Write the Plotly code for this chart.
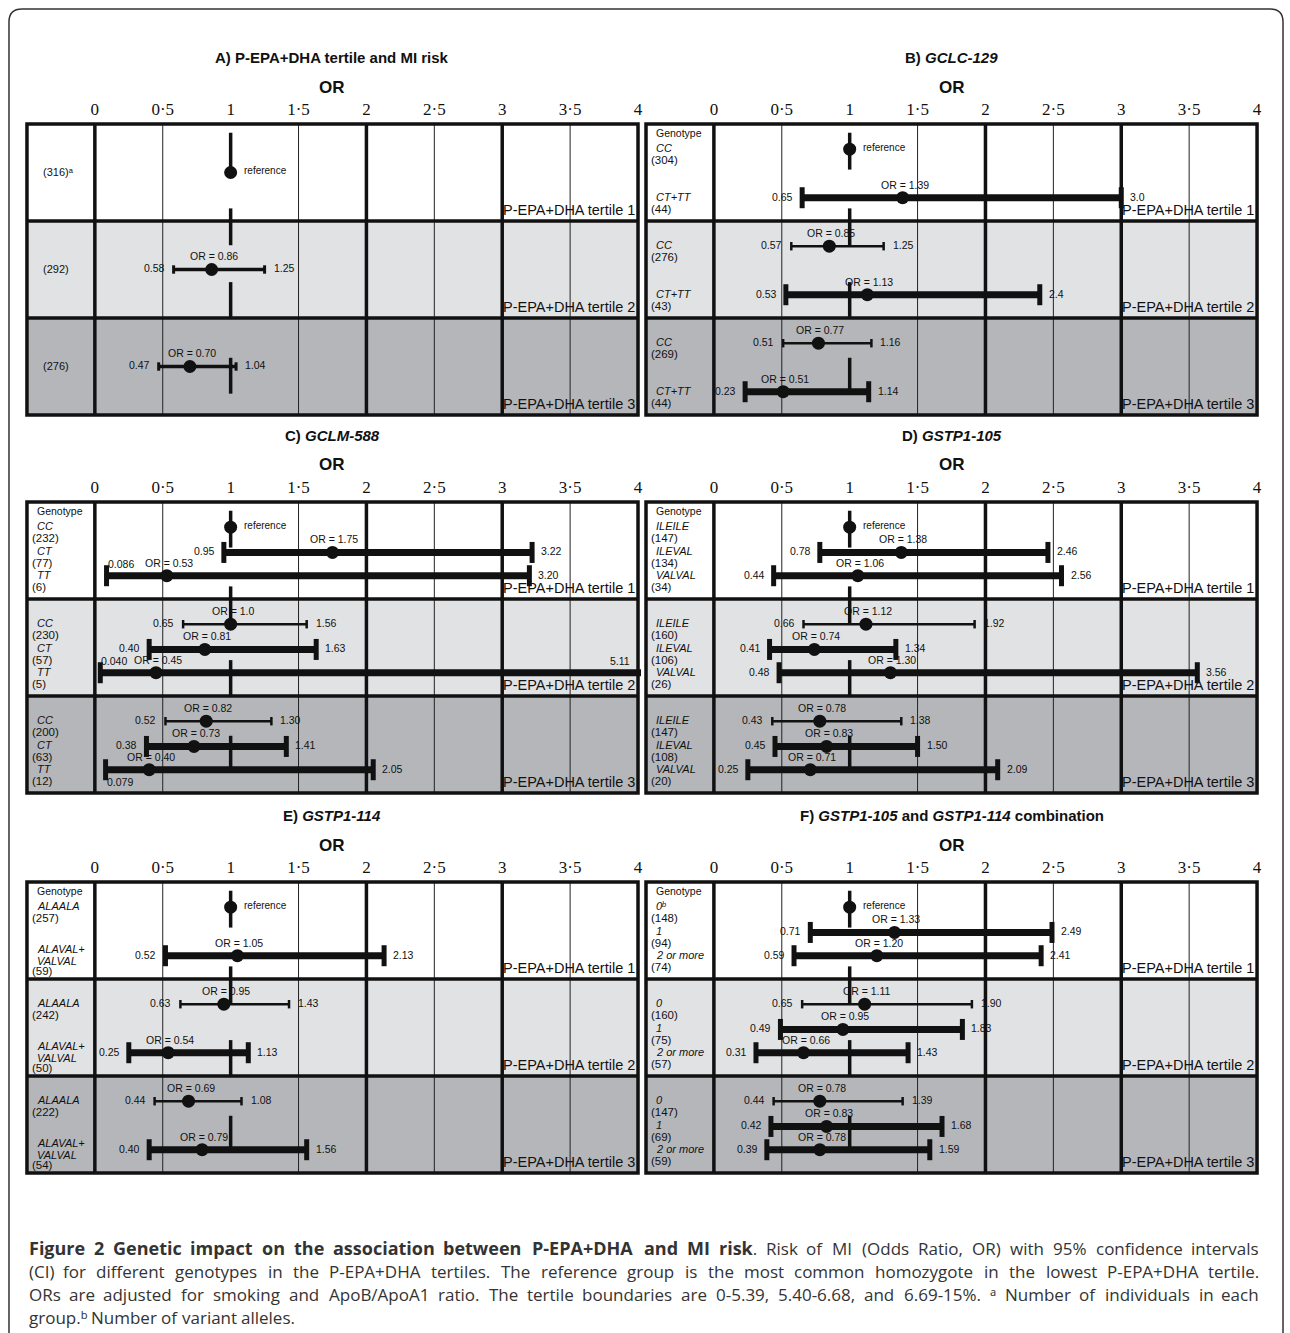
import plotly.graph_objects as go

W, H = 1290, 1333

# ------------------------------------------------------------------ data
tick_vals = [0, 0.5, 1, 1.5, 2, 2.5, 3, 3.5, 4]
tick_text = ["0", "0·5", "1", "1·5", "2", "2·5", "3", "3·5", "4"]
tertile_labels = ["P-EPA+DHA tertile 1", "P-EPA+DHA tertile 2", "P-EPA+DHA tertile 3"]

# Panel A
a_tertile = [1, 2, 3]
a_genotype = ["", "", ""]
a_n = ["(316)ᵃ", "(292)", "(276)"]
a_or = ["1", "0.86", "0.70"]
a_lo = [None, "0.58", "0.47"]
a_hi = [None, "1.25", "1.04"]

# Panel B  GCLC-129
b_tertile = [1, 1, 2, 2, 3, 3]
b_genotype = ["CC", "CT+TT", "CC", "CT+TT", "CC", "CT+TT"]
b_n = ["(304)", "(44)", "(276)", "(43)", "(269)", "(44)"]
b_or = ["1", "1.39", "0.85", "1.13", "0.77", "0.51"]
b_lo = [None, "0.65", "0.57", "0.53", "0.51", "0.23"]
b_hi = [None, "3.0", "1.25", "2.4", "1.16", "1.14"]

# Panel C  GCLM-588
c_tertile = [1, 1, 1, 2, 2, 2, 3, 3, 3]
c_genotype = ["CC", "CT", "TT", "CC", "CT", "TT", "CC", "CT", "TT"]
c_n = ["(232)", "(77)", "(6)", "(230)", "(57)", "(5)", "(200)", "(63)", "(12)"]
c_or = ["1", "1.75", "0.53", "1.0", "0.81", "0.45", "0.82", "0.73", "0.40"]
c_lo = [None, "0.95", "0.086", "0.65", "0.40", "0.040", "0.52", "0.38", "0.079"]
c_hi = [None, "3.22", "3.20", "1.56", "1.63", "5.11", "1.30", "1.41", "2.05"]

# Panel D  GSTP1-105
d_tertile = [1, 1, 1, 2, 2, 2, 3, 3, 3]
d_genotype = ["ILEILE", "ILEVAL", "VALVAL", "ILEILE", "ILEVAL", "VALVAL", "ILEILE", "ILEVAL", "VALVAL"]
d_n = ["(147)", "(134)", "(34)", "(160)", "(106)", "(26)", "(147)", "(108)", "(20)"]
d_or = ["1", "1.38", "1.06", "1.12", "0.74", "1.30", "0.78", "0.83", "0.71"]
d_lo = [None, "0.78", "0.44", "0.66", "0.41", "0.48", "0.43", "0.45", "0.25"]
d_hi = [None, "2.46", "2.56", "1.92", "1.34", "3.56", "1.38", "1.50", "2.09"]

# Panel E  GSTP1-114
e_tertile = [1, 1, 2, 2, 3, 3]
e_genotype = ["ALAALA", "ALAVAL+|VALVAL", "ALAALA", "ALAVAL+|VALVAL", "ALAALA", "ALAVAL+|VALVAL"]
e_n = ["(257)", "(59)", "(242)", "(50)", "(222)", "(54)"]
e_or = ["1", "1.05", "0.95", "0.54", "0.69", "0.79"]
e_lo = [None, "0.52", "0.63", "0.25", "0.44", "0.40"]
e_hi = [None, "2.13", "1.43", "1.13", "1.08", "1.56"]

# Panel F  GSTP1-105 + GSTP1-114 combination
f_tertile = [1, 1, 1, 2, 2, 2, 3, 3, 3]
f_genotype = ["0ᵇ", "1", "2 or more", "0", "1", "2 or more", "0", "1", "2 or more"]
f_n = ["(148)", "(94)", "(74)", "(160)", "(75)", "(57)", "(147)", "(69)", "(59)"]
f_or = ["1", "1.33", "1.20", "1.11", "0.95", "0.66", "0.78", "0.83", "0.78"]
f_lo = [None, "0.71", "0.59", "0.65", "0.49", "0.31", "0.44", "0.42", "0.39"]
f_hi = [None, "2.49", "2.41", "1.90", "1.83", "1.43", "1.39", "1.68", "1.59"]

# OR = 1 reference line, drawn in pieces (row units)
ref_segments = [(0.09, 0.47), (0.87, 1.25), (1.63, 2.0), (2.41, 2.78)]

panel_titles = [
    "<b>A) P-EPA+DHA tertile and MI risk</b>",
    "<b>B) <i>GCLC-129</i></b>",
    "<b>C) <i>GCLM-588</i></b>",
    "<b>D) <i>GSTP1-105</i></b>",
    "<b>E) <i>GSTP1-114</i></b>",
    "<b>F) <i>GSTP1-105</i> and <i>GSTP1-114</i> combination</b>",
]

# caption: words marked with * are bold
caption_lines = [
    "*Figure *2 *Genetic *impact *on *the *association *between *P-EPA+DHA *and *MI *risk|. Risk of MI (Odds Ratio, OR) with 95% confidence intervals",
    "(CI) for different genotypes in the P-EPA+DHA tertiles. The reference group is the most common homozygote in the lowest P-EPA+DHA tertile.",
    "ORs are adjusted for smoking and ApoB/ApoA1 ratio. The tertile boundaries are 0-5.39, 5.40-6.68, and 6.69-15%. ᵃ Number of individuals in each",
    "group.ᵇ Number of variant alleles.",
]

panels = [
    dict(t=a_tertile, g=a_genotype, n=a_n, orv=a_or, lo=a_lo, hi=a_hi),
    dict(t=b_tertile, g=b_genotype, n=b_n, orv=b_or, lo=b_lo, hi=b_hi),
    dict(t=c_tertile, g=c_genotype, n=c_n, orv=c_or, lo=c_lo, hi=c_hi),
    dict(t=d_tertile, g=d_genotype, n=d_n, orv=d_or, lo=d_lo, hi=d_hi),
    dict(t=e_tertile, g=e_genotype, n=e_n, orv=e_or, lo=e_lo, hi=e_hi),
    dict(t=f_tertile, g=f_genotype, n=f_n, orv=f_or, lo=f_lo, hi=f_hi),
]

# label placement exceptions (panel index, row index) -> placement
lo_place = {(2, 2): "above", (2, 5): "above", (2, 8): "below"}
hi_place = {(2, 5): "edge"}

# ------------------------------------------------------------------ layout geometry
SANS = "Liberation Sans, Arial, sans-serif"
SERIF = "Liberation Serif, Times New Roman, serif"
CAPFONT = "Open Sans, Noto Sans, DejaVu Sans, sans-serif"
BG = ["#ffffff", "#e1e2e4", "#b4b6ba"]

col_zero = [95.0, 715.0]          # pixel x of OR = 0
unit_x = 136.0
row_top = [124.0, 502.0, 882.0]   # pixel y of table top
unit_y = 97.0
PADX, PADY = 3.0, 3.0

fig = go.Figure()
shapes, annotations = [], []


def row_offsets(k):
    return {1: [0.5], 2: [0.26, 0.76], 3: [0.26, 0.52, 0.76]}[k]


for i, p in enumerate(panels):
    k = "" if i == 0 else str(i + 1)
    xr, yr = "x" + k, "y" + k
    x0 = col_zero[i % 2]
    top = row_top[i // 2]
    left_px = x0 - 0.5 * unit_x - PADX
    right_px = x0 + 4 * unit_x + PADX
    top_px = top - PADY
    bot_px = top + 3 * unit_y + PADY
    fig.layout["xaxis" + k] = dict(
        domain=[left_px / W, right_px / W],
        range=[-0.5 - PADX / unit_x, 4 + PADX / unit_x],
        anchor=yr, side="top", tickvals=tick_vals, ticktext=tick_text,
        tickfont=dict(family=SERIF, size=17, color="#111"), ticks="",
        showgrid=False, zeroline=False, showline=False, fixedrange=True,
        ticklabelstandoff=2,
    )
    fig.layout["yaxis" + k] = dict(
        domain=[1 - bot_px / H, 1 - top_px / H],
        range=[3 + PADY / unit_y, -PADY / unit_y],
        anchor=xr, showticklabels=False, showgrid=False, zeroline=False,
        showline=False, fixedrange=True,
    )

    for t in range(3):
        shapes.append(dict(type="rect", xref=xr, yref=yr, x0=-0.5, x1=4, y0=t, y1=t + 1,
                           fillcolor=BG[t], line=dict(width=0), layer="below"))
    for gx in [0.5, 1.5, 2.5, 3.5]:
        shapes.append(dict(type="line", xref=xr, yref=yr, x0=gx, x1=gx, y0=0, y1=3,
                           line=dict(color="#222", width=1), layer="below"))
    for gx in [0, 2, 3]:
        shapes.append(dict(type="line", xref=xr, yref=yr, x0=gx, x1=gx, y0=0, y1=3,
                           line=dict(color="#111", width=3.5), layer="below"))
    for gy in [1, 2]:
        shapes.append(dict(type="line", xref=xr, yref=yr, x0=-0.5, x1=4, y0=gy, y1=gy,
                           line=dict(color="#111", width=3.5), layer="below"))
    shapes.append(dict(type="rect", xref=xr, yref=yr, x0=-0.5, x1=4, y0=0, y1=3,
                       line=dict(color="#111", width=3.5), layer="below"))

    for t in range(3):
        annotations.append(dict(xref=xr, yref=yr, x=4, y=t + 1, text=tertile_labels[t],
                                xanchor="right", yanchor="bottom", showarrow=False,
                                xshift=-1, yshift=1, font=dict(family=SANS, size=14.5, color="#111")))

    ys = []
    for t in range(1, 4):
        cnt = p["t"].count(t)
        ys += [t - 1 + o for o in row_offsets(cnt)]

    rx, ry = [], []
    for s0, s1 in ref_segments:
        rx += [1, 1, None]
        ry += [s0, s1, None]
    fig.add_trace(go.Scatter(x=rx, y=ry, xaxis=xr, yaxis=yr, mode="lines",
                             line=dict(color="#111", width=3.5), hoverinfo="skip", showlegend=False))

    first_of_tertile = [j == 0 or p["t"][j] != p["t"][j - 1] for j in range(len(ys))]
    groups = {"thin": ([], [], []), "thick": ([], [], [])}
    for j, y in enumerate(ys):
        if p["lo"][j] is None:
            continue
        lo, hi = float(p["lo"][j]), float(p["hi"][j])
        gname = "thin" if (i == 0 or first_of_tertile[j]) else "thick"
        gx_, gy_, caps = groups[gname]
        gx_ += [lo, hi, None]
        gy_ += [y, y, None]
        caps += [(lo, y), (hi, y)]
    for gname, (gx_, gy_, caps) in groups.items():
        if not gx_:
            continue
        if i == 0:
            lw, csize, cw = 3.5, 6, 3
        elif gname == "thin":
            lw, csize, cw = 2.6, 6, 2.5
        else:
            lw, csize, cw = 7, 15, 5
        fig.add_trace(go.Scatter(x=gx_, y=gy_, xaxis=xr, yaxis=yr, mode="lines",
                                 line=dict(color="#111", width=lw), hoverinfo="skip", showlegend=False))
        fig.add_trace(go.Scatter(x=[c[0] for c in caps], y=[c[1] for c in caps], xaxis=xr, yaxis=yr,
                                 mode="markers", marker=dict(symbol="line-ns", size=csize,
                                                             line=dict(color="#111", width=cw)),
                                 hoverinfo="skip", showlegend=False))
    fig.add_trace(go.Scatter(x=[float(v) for v in p["orv"]], y=ys, xaxis=xr, yaxis=yr, mode="markers",
                             marker=dict(symbol="circle", size=13, color="#111"),
                             hoverinfo="skip", showlegend=False))

    small = dict(family=SANS, size=10.5, color="#111")
    for j, y in enumerate(ys):
        orv = p["orv"][j]
        if p["lo"][j] is None:
            annotations.append(dict(xref=xr, yref=yr, x=float(orv), y=y, text="reference",
                                    xanchor="left", yanchor="middle", showarrow=False, xshift=11, yshift=2,
                                    font=dict(family=SANS, size=10, color="#111")))
        else:
            annotations.append(dict(xref=xr, yref=yr, x=float(orv), y=y, text="OR = " + orv,
                                    xanchor="center", yanchor="middle", showarrow=False, xshift=2, yshift=13,
                                    font=small))
            lp = lo_place.get((i, j), "left")
            lo = float(p["lo"][j])
            if lp == "left":
                annotations.append(dict(xref=xr, yref=yr, x=lo, y=y, text=p["lo"][j], xanchor="right",
                                        yanchor="middle", showarrow=False, xshift=-7, yshift=1, font=small))
            else:
                annotations.append(dict(xref=xr, yref=yr, x=lo, y=y, text=p["lo"][j], xanchor="left",
                                        yanchor="middle", showarrow=False, xshift=-1,
                                        yshift=12 if lp == "above" else -12, font=small))
            hp = hi_place.get((i, j), "right")
            if hp == "right":
                annotations.append(dict(xref=xr, yref=yr, x=float(p["hi"][j]), y=y, text=p["hi"][j],
                                        xanchor="left", yanchor="middle", showarrow=False, xshift=7, yshift=1,
                                        font=small))
            else:
                annotations.append(dict(xref=xr, yref=yr, x=4, y=y, text=p["hi"][j],
                                        xanchor="right", yanchor="middle", showarrow=False, xshift=-6,
                                        yshift=12, font=small))
        if i == 0:
            annotations.append(dict(xref=xr, yref=yr, x=-0.5, y=y, text=p["n"][j], xanchor="left",
                                    yanchor="middle", showarrow=False, xshift=14, yshift=0,
                                    font=dict(family=SANS, size=11, color="#111")))
        else:
            lines = p["g"][j].split("|")
            if len(lines) == 1:
                annotations.append(dict(xref=xr, yref=yr, x=-0.5, y=y, text="<i>" + lines[0] + "</i>",
                                        xanchor="left", yanchor="middle", showarrow=False, xshift=8, yshift=1,
                                        font=dict(family=SANS, size=11, color="#111")))
                annotations.append(dict(xref=xr, yref=yr, x=-0.5, y=y, text=p["n"][j], xanchor="left",
                                        yanchor="middle", showarrow=False, xshift=3, yshift=-11,
                                        font=dict(family=SANS, size=11.5, color="#111")))
            else:
                for li, txt in enumerate(lines):
                    annotations.append(dict(xref=xr, yref=yr, x=-0.5, y=y, text="<i>" + txt + "</i>",
                                            xanchor="left", yanchor="middle", showarrow=False, xshift=8,
                                            yshift=7 - 12 * li,
                                            font=dict(family=SANS, size=11, color="#111")))
                annotations.append(dict(xref=xr, yref=yr, x=-0.5, y=y, text=p["n"][j], xanchor="left",
                                        yanchor="middle", showarrow=False, xshift=3, yshift=-15,
                                        font=dict(family=SANS, size=11.5, color="#111")))
    if i > 0:
        annotations.append(dict(xref=xr, yref=yr, x=-0.5, y=0, text="Genotype", xanchor="left",
                                yanchor="top", showarrow=False, xshift=8, yshift=-1,
                                font=dict(family=SANS, size=10.5, color="#111")))

    cx = (x0 - 0.5 * unit_x + x0 + 4 * unit_x) / 2
    annotations.append(dict(xref="paper", yref="paper", x=cx / W, y=1 - (top - 67) / H, text=panel_titles[i],
                            xanchor="center", yanchor="middle", showarrow=False,
                            font=dict(family=SANS, size=15, color="#111")))
    annotations.append(dict(xref="paper", yref="paper", x=cx / W, y=1 - (top - 37) / H, text="<b>OR</b>",
                            xanchor="center", yanchor="middle", showarrow=False,
                            font=dict(family=SANS, size=17, color="#111")))

# ------------------------------------------------------------------ caption (justified)
OS = {' ': 260, '!': 267, '(': 275, ')': 275, '+': 572, ',': 245, '-': 322, '.': 266, '/': 367,
      '%': 823, ':': 266, '0': 572, '1': 572, '2': 572, '3': 572, '4': 572, '5': 572, '6': 572,
      '7': 572, '8': 572, '9': 572, 'ᵃ': 380, 'ᵇ': 400,
      'A': 633, 'B': 648, 'C': 631, 'D': 729, 'E': 556, 'F': 516, 'G': 728, 'H': 738, 'I': 279,
      'J': 267, 'K': 614, 'L': 519, 'M': 903, 'N': 763, 'O': 781, 'P': 602, 'Q': 781, 'R': 618,
      'S': 549, 'T': 553, 'U': 728, 'V': 595, 'W': 926, 'X': 577, 'Y': 560, 'Z': 571,
      'a': 556, 'b': 613, 'c': 476, 'd': 613, 'e': 561, 'f': 339, 'g': 548, 'h': 614, 'i': 253,
      'j': 253, 'k': 525, 'l': 253, 'm': 930, 'n': 614, 'o': 604, 'p': 613, 'q': 613, 'r': 408,
      's': 477, 't': 353, 'u': 614, 'v': 501, 'w': 778, 'x': 524, 'y': 501, 'z': 462}
CAP_SIZE = 17
CAP_BOLD_SIZE = 18
CAP_L, CAP_R = 28.0, 1262.0
CAP_Y = [1248, 1271, 1294, 1317]


def word_width(word, size, bold=False):
    w = 0.0
    for ch in word:
        w += OS.get(ch, 560)
    return w / 1000 * size * (1.07 if bold else 1.0)


for li, line in enumerate(caption_lines):
    tokens = []
    for raw in line.split(" "):
        bold_part, reg_part = "", raw
        if raw.startswith("*"):
            seg = raw[1:].split("|")
            bold_part, reg_part = seg[0], seg[1] if len(seg) > 1 else ""
        html, plain_w = "", 0.0
        if bold_part:
            html += f"<span style='font-size:{CAP_BOLD_SIZE}px'><b>{bold_part}</b></span>"
            plain_w += word_width(bold_part, CAP_BOLD_SIZE, True)
        html += reg_part
        plain_w += word_width(reg_part, CAP_SIZE)
        tokens.append((html, plain_w))
    justify = li < len(caption_lines) - 1
    natural = sum(t[1] for t in tokens)
    space = OS[' '] / 1000 * CAP_SIZE
    gap = (CAP_R - CAP_L - natural) / (len(tokens) - 1) if justify else space
    xpos = CAP_L
    for ti, (html, w) in enumerate(tokens):
        if justify and ti == len(tokens) - 1:
            ax, anchor = CAP_R, "right"
        elif ti == 0:
            ax, anchor = CAP_L, "left"
        else:
            ax, anchor = xpos + w / 2, "center"
        annotations.append(dict(xref="paper", yref="paper", x=ax / W, y=1 - CAP_Y[li] / H, text=html,
                                xanchor=anchor, yanchor="middle", showarrow=False, borderpad=0,
                                font=dict(family=CAPFONT, size=CAP_SIZE, color="#333")))
        xpos += w + gap

# outer rounded frame
def P(x, y):
    return f"{x / W},{1 - y / H}"


frame = (f"M {P(9, 1345)} L {P(9, 22)} Q {P(9, 9)} {P(22, 9)} L {P(1272, 9)} "
         f"Q {P(1285, 9)} {P(1285, 22)} L {P(1285, 1345)}")
shapes.append(dict(type="path", xref="paper", yref="paper", path=frame,
                   line=dict(color="#333", width=1.5)))

fig.update_layout(width=W, height=H, margin=dict(l=0, r=0, t=0, b=0),
                  paper_bgcolor="white", plot_bgcolor="rgba(0,0,0,0)",
                  shapes=shapes, annotations=annotations, showlegend=False)

fig.write_html("out.html", include_plotlyjs=True,
               config={"displayModeBar": False, "staticPlot": True},
               post_script="document.body.style.margin='0';document.body.style.overflow='hidden';")
